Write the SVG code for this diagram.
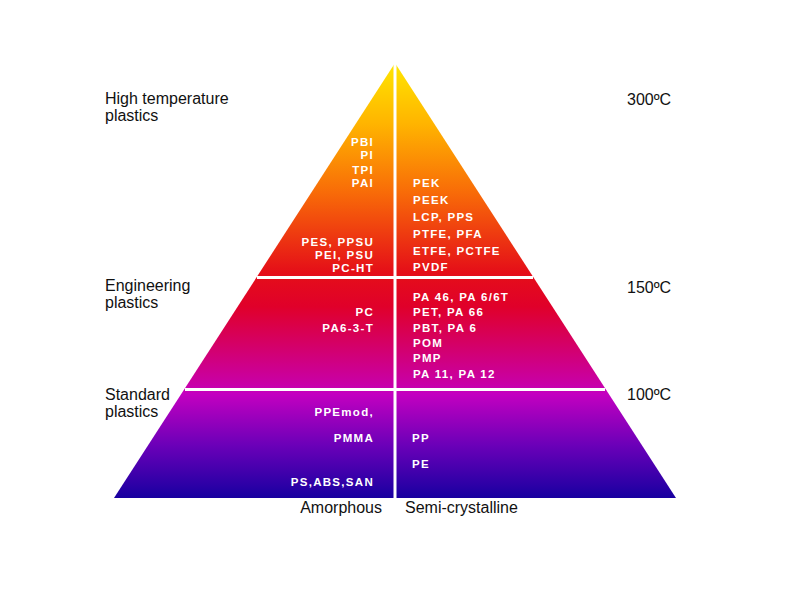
<svg xmlns="http://www.w3.org/2000/svg" width="800" height="600" viewBox="0 0 800 600">
  <style>
    .lbl{font-family:"Liberation Sans",Arial,sans-serif;font-size:16px;fill:#111}
    .mat{font-family:"Liberation Sans",Arial,sans-serif;font-size:11.5px;font-weight:bold;fill:#fff;letter-spacing:1.3px}
    .l{text-anchor:end}
    .sep{stroke:#fff;stroke-width:3;fill:none}
  </style>
  <defs>
    <linearGradient id="grad" gradientUnits="userSpaceOnUse" x1="0" y1="63" x2="0" y2="498">
      <stop offset="0" stop-color="#ffe600"/>
      <stop offset="0.14" stop-color="#ffb400"/>
      <stop offset="0.3" stop-color="#f86a08"/>
      <stop offset="0.48" stop-color="#e50f18"/>
      <stop offset="0.56" stop-color="#e0002a"/>
      <stop offset="0.74" stop-color="#c800a8"/>
      <stop offset="0.76" stop-color="#c400c0"/>
      <stop offset="0.88" stop-color="#6a00b8"/>
      <stop offset="1" stop-color="#1800a0"/>
    </linearGradient>
  </defs>
  <rect width="800" height="600" fill="#fff"/>
  <g id="pyramid">
    <polygon points="395,63 676,498 114,498" fill="url(#grad)"/>
  </g>
  <g id="connectors">
    <line class="sep" x1="395" y1="63" x2="395" y2="498"/>
    <line class="sep" x1="257" y1="277.5" x2="533" y2="277.5"/>
    <line class="sep" x1="185" y1="389.5" x2="605" y2="389.5"/>
  </g>
  <g id="tier-high">
    <text class="lbl" x="105" y="104">High temperature</text>
    <text class="lbl" x="105" y="121">plastics</text>
    <text class="lbl" x="627" y="105">300ºC</text>
    <text class="mat l" x="374" y="146">PBI</text>
    <text class="mat l" x="374" y="159">PI</text>
    <text class="mat l" x="374" y="174">TPI</text>
    <text class="mat l" x="374" y="187">PAI</text>
    <text class="mat l" x="374" y="246">PES, PPSU</text>
    <text class="mat l" x="374" y="259">PEI, PSU</text>
    <text class="mat l" x="374" y="272">PC-HT</text>
    <text class="mat" x="413" y="187">PEK</text>
    <text class="mat" x="413" y="204">PEEK</text>
    <text class="mat" x="413" y="221">LCP, PPS</text>
    <text class="mat" x="413" y="238">PTFE, PFA</text>
    <text class="mat" x="413" y="255">ETFE, PCTFE</text>
    <text class="mat" x="413" y="271">PVDF</text>
  </g>
  <g id="tier-engineering">
    <text class="lbl" x="105" y="291">Engineering</text>
    <text class="lbl" x="105" y="308">plastics</text>
    <text class="lbl" x="627" y="293">150ºC</text>
    <text class="mat l" x="374" y="316">PC</text>
    <text class="mat l" x="374" y="332">PA6-3-T</text>
    <text class="mat" x="413" y="301">PA 46, PA 6/6T</text>
    <text class="mat" x="413" y="316">PET, PA 66</text>
    <text class="mat" x="413" y="332">PBT, PA 6</text>
    <text class="mat" x="413" y="347">POM</text>
    <text class="mat" x="413" y="362">PMP</text>
    <text class="mat" x="413" y="378">PA 11, PA 12</text>
  </g>
  <g id="tier-standard">
    <text class="lbl" x="105" y="400">Standard</text>
    <text class="lbl" x="105" y="417">plastics</text>
    <text class="lbl" x="627" y="400">100ºC</text>
    <text class="mat l" x="374" y="416">PPEmod,</text>
    <text class="mat l" x="374" y="442">PMMA</text>
    <text class="mat l" x="374" y="486">PS,ABS,SAN</text>
    <text class="mat" x="412" y="442">PP</text>
    <text class="mat" x="412" y="468">PE</text>
  </g>
  <g id="axis-labels">
    <text class="lbl l" x="382" y="513">Amorphous</text>
    <text class="lbl" x="405" y="513">Semi-crystalline</text>
  </g>
</svg>
